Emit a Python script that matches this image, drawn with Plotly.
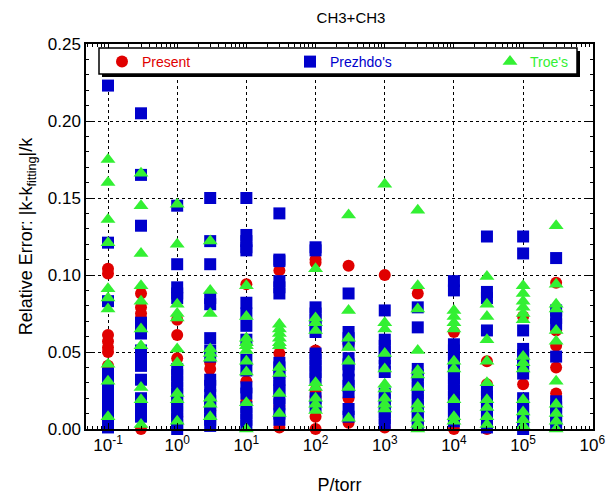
import plotly.graph_objects as go

pressures = [0.1, 0.3, 1, 3, 10, 30, 100, 300, 1e3, 3e3, 1e4, 3e4, 1e5, 3e5]

present_err = [
    [0.104, 0.101, 0.061, 0.057, 0.053, 0.050, 0.041, 0.025, 0.012, 0.004],
    [0.088, 0.079, 0.075, 0.072, 0.000],
    [0.071, 0.061, 0.046, 0.008, 0.003],
    [0.043, 0.039, 0.012, 0.008],
    [0.094, 0.031, 0.018],
    [0.103, 0.049, 0.015, 0.001],
    [0.110, 0.108, 0.051, 0.025, 0.021, 0.008, 0.000],
    [0.106, 0.055, 0.020, 0.004],
    [0.100, 0.001],
    [0.088, 0.002],
    [0.063, 0.000],
    [0.044, 0.029, 0.000],
    [0.073, 0.029],
    [0.095, 0.064, 0.054, 0.040, 0.023],
]

prezhdo_err = [
    [0.223, 0.121, 0.083, 0.036, 0.032, 0.028, 0.022, 0.018, 0.014, 0.010, 0.006, 0.003, 0.001],
    [0.205, 0.165, 0.132, 0.069, 0.065, 0.062, 0.051, 0.047, 0.044, 0.041, 0.032, 0.020, 0.016, 0.012, 0.008],
    [0.145, 0.107, 0.092, 0.088, 0.085, 0.039, 0.035, 0.031, 0.027, 0.023, 0.019, 0.015, 0.011, 0.007, 0.003, 0.000],
    [0.150, 0.122, 0.107, 0.085, 0.081, 0.059, 0.051, 0.047, 0.032, 0.028, 0.022, 0.018, 0.014, 0.010, 0.006, 0.002],
    [0.150, 0.126, 0.122, 0.118, 0.116, 0.082, 0.075, 0.067, 0.058, 0.045, 0.038, 0.027, 0.023, 0.014, 0.010, 0.006, 0.002],
    [0.140, 0.110, 0.109, 0.096, 0.092, 0.088, 0.043, 0.040, 0.036, 0.032, 0.028, 0.025, 0.020, 0.016, 0.010, 0.006],
    [0.118, 0.116, 0.079, 0.075, 0.071, 0.067, 0.063, 0.049, 0.045, 0.041, 0.037, 0.033, 0.020, 0.015],
    [0.088, 0.063, 0.059, 0.055, 0.046, 0.042, 0.038, 0.032, 0.028, 0.024, 0.013, 0.008],
    [0.077, 0.058, 0.054, 0.050, 0.046, 0.041, 0.037, 0.023, 0.019, 0.015, 0.011, 0.007, 0.003],
    [0.079, 0.066, 0.039, 0.035, 0.031, 0.027, 0.023, 0.019, 0.015, 0.011, 0.007, 0.003],
    [0.096, 0.090, 0.055, 0.051, 0.047, 0.043, 0.037, 0.033, 0.029, 0.025, 0.021, 0.017, 0.013, 0.009, 0.005],
    [0.125, 0.089, 0.085, 0.064, 0.025, 0.021, 0.017, 0.013, 0.009, 0.005, 0.001],
    [0.125, 0.114, 0.064, 0.052, 0.048, 0.044, 0.040, 0.036, 0.020, 0.016, 0.012, 0.008, 0.004, 0.000],
    [0.111, 0.077, 0.072, 0.068, 0.047, 0.018, 0.014, 0.010, 0.006, 0.002],
]

troe_err = [
    [0.175, 0.160, 0.136, 0.121, 0.091, 0.085, 0.078, 0.042, 0.031, 0.008],
    [0.166, 0.145, 0.114, 0.093, 0.083, 0.065, 0.054, 0.027, 0.019, 0.003],
    [0.146, 0.120, 0.081, 0.075, 0.072, 0.052, 0.043, 0.023, 0.019, 0.005],
    [0.122, 0.090, 0.075, 0.052, 0.049, 0.046, 0.020, 0.016, 0.008],
    [0.093, 0.073, 0.059, 0.056, 0.054, 0.051, 0.044, 0.037, 0.017, 0.000],
    [0.068, 0.065, 0.062, 0.059, 0.056, 0.054, 0.040, 0.036, 0.023, 0.010],
    [0.104, 0.072, 0.069, 0.064, 0.030, 0.027, 0.020, 0.016, 0.012],
    [0.139, 0.077, 0.059, 0.053, 0.044, 0.027, 0.007],
    [0.159, 0.069, 0.065, 0.049, 0.039, 0.029, 0.026, 0.020, 0.016, 0.013],
    [0.142, 0.093, 0.078, 0.051, 0.038, 0.035, 0.027, 0.016, 0.013, 0.007, 0.003, 0.000],
    [0.077, 0.073, 0.069, 0.065, 0.044, 0.039, 0.019, 0.008, 0.005],
    [0.099, 0.081, 0.073, 0.058, 0.044, 0.030, 0.019, 0.014, 0.008, 0.003],
    [0.093, 0.088, 0.083, 0.079, 0.075, 0.071, 0.047, 0.043, 0.039, 0.019, 0.011, 0.006, 0.002],
    [0.132, 0.094, 0.081, 0.078, 0.064, 0.057, 0.031, 0.016, 0.010, 0.005, 0.000],
]

x_tick_vals = [0.1, 1, 10, 100, 1e3, 1e4, 1e5, 1e6]
x_tick_text = ["10<sup>-1</sup>", "10<sup>0</sup>", "10<sup>1</sup>", "10<sup>2</sup>",
               "10<sup>3</sup>", "10<sup>4</sup>", "10<sup>5</sup>", "10<sup>6</sup>"]

series_names = ["Present", "Prezhdo's", "Troe's"]
series_colors = ["#E00000", "#0000CC", "#33F033"]
series_symbols = ["circle", "square", "triangle-up"]
series_sizes = [12, 12, 13]
legend_ids = ["legend", "legend2", "legend3"]


def flatten(groups):
    xs, ys = [], []
    for p, vals in zip(pressures, groups):
        for v in vals:
            xs.append(p)
            ys.append(v)
    return xs, ys


fig = go.Figure()
for name, data, col, sym, sz, lg in zip(series_names, [present_err, prezhdo_err, troe_err],
                                         series_colors, series_symbols, series_sizes, legend_ids):
    xs, ys = flatten(data)
    fig.add_trace(go.Scatter(
        x=xs, y=ys, mode="markers", name=name, legend=lg,
        marker=dict(color=col, symbol=sym, size=sz, line=dict(width=0)),
        cliponaxis=False,
    ))

W, H = 609, 495
ml, mr, mt, mb = 86, 16, 44, 66
pw, ph = W - ml - mr, H - mt - mb

font_family = "Arial, Liberation Sans, sans-serif"


def px_x(px):
    return (px - ml) / pw


def px_y(py):
    return 1 - (py - mt) / ph


axis_common = dict(
    showline=True, linecolor="black", linewidth=1.5, mirror="allticks",
    ticks="inside", ticklen=6, tickcolor="black", tickwidth=1,
    showgrid=True, gridcolor="black", griddash="dot", gridwidth=1,
    zeroline=False, automargin=False,
)

fig.update_xaxes(
    type="log", range=[-1.318, 6.01],
    tickvals=x_tick_vals, ticktext=x_tick_text,
    tickfont=dict(family=font_family, size=17, color="black"),
    minor=dict(ticks="inside", ticklen=3, tickcolor="black", dtick="D1", showgrid=False),
    title=dict(text="P/torr", font=dict(family=font_family, size=18, color="black"), standoff=34),
    **axis_common,
)
fig.update_yaxes(
    range=[0, 0.25], dtick=0.05, tickformat=".2f",
    tickfont=dict(family=font_family, size=17, color="black"),
    minor=dict(ticks="inside", ticklen=3, tickcolor="black", dtick=0.01, showgrid=False),
    title=dict(text="Relative Error: |k-k<sub>fitting</sub>|/k",
               font=dict(family=font_family, size=18, color="black"), standoff=10),
    **axis_common,
)

# legend frame with drop shadow
lx0, lx1, ly0, ly1 = 99, 577, 48, 74
fig.add_shape(type="rect", xref="paper", yref="paper", layer="above",
              x0=px_x(lx0 + 3), x1=px_x(lx1 + 3), y0=px_y(ly1 + 3), y1=px_y(ly0 + 3),
              fillcolor="black", line=dict(width=0))
fig.add_shape(type="rect", xref="paper", yref="paper", layer="above",
              x0=px_x(lx0), x1=px_x(lx1), y0=px_y(ly1), y1=px_y(ly0),
              fillcolor="white", line=dict(color="black", width=1.5))

legend_marker_px = [123, 311, 511]
legend_cfg = {}
for lg, mx, col in zip(legend_ids, legend_marker_px, series_colors):
    legend_cfg[lg] = dict(
        x=px_x(mx - 21), y=px_y(62), xanchor="left", yanchor="middle",
        orientation="h", bgcolor="rgba(0,0,0,0)", borderwidth=0,
        font=dict(family=font_family, size=14, color=col),
        itemclick=False, itemdoubleclick=False,
    )

fig.update_layout(
    width=W, height=H,
    margin=dict(l=ml, r=mr, t=mt, b=mb, autoexpand=False),
    paper_bgcolor="white", plot_bgcolor="white",
    title=dict(text="CH3+CH3", x=(351 - ml) / pw, xref="paper", xanchor="center",
               y=1 - 18 / H, yanchor="middle",
               font=dict(family=font_family, size=15, color="black")),
    showlegend=True,
    **legend_cfg,
)

fig.write_html("out.html")
